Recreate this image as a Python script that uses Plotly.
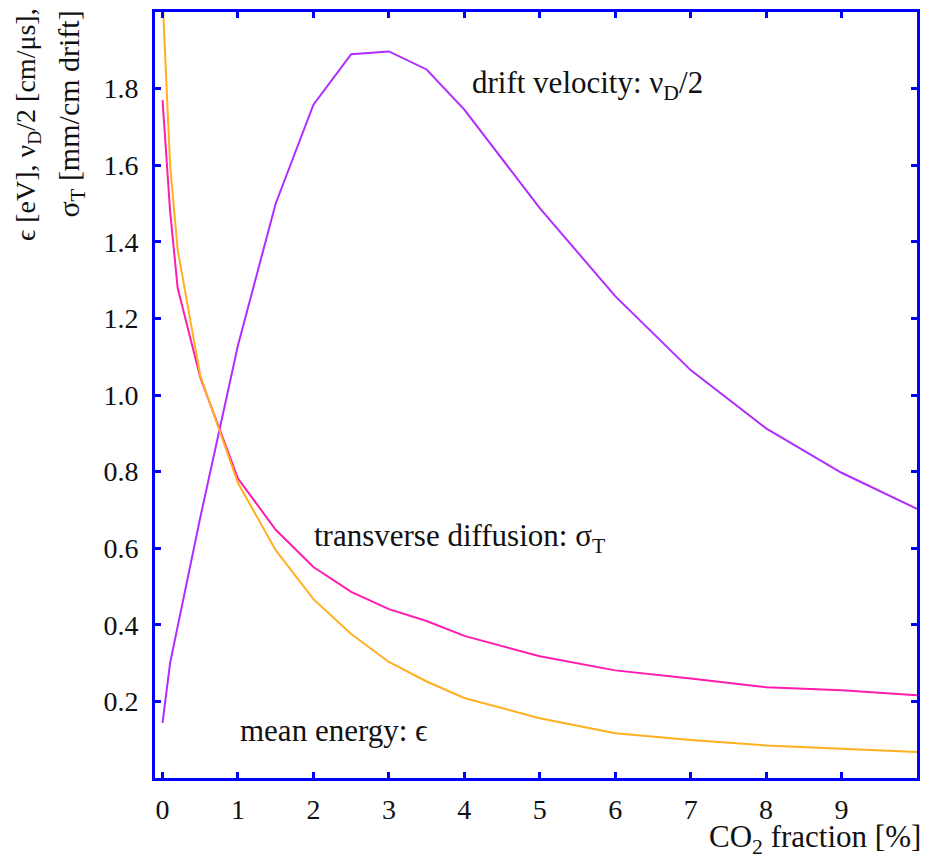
import plotly.graph_objects as go

# ---- data ----
drift_x = [0, 0.1, 0.5, 1, 1.5, 2, 2.5, 3, 3.5, 4, 5, 6, 7, 8, 9, 10]
drift_y = [0.144, 0.30, 0.68, 1.13, 1.50, 1.758, 1.89, 1.897, 1.85, 1.745, 1.488, 1.258, 1.065, 0.913, 0.797, 0.703]

diff_x = [0, 0.05, 0.1, 0.2, 0.5, 1, 1.5, 2, 2.5, 3, 3.5, 4, 5, 6, 7, 8, 9, 10]
diff_y = [1.77, 1.63, 1.48, 1.28, 1.046, 0.782, 0.648, 0.551, 0.486, 0.441, 0.41, 0.371, 0.318, 0.281, 0.26, 0.237, 0.229, 0.216]

energy_x = [0, 0.1, 0.2, 0.5, 1, 1.5, 2, 2.5, 3, 3.5, 4, 5, 6, 7, 8, 9, 10]
energy_y = [2.04, 1.60, 1.38, 1.05, 0.77, 0.595, 0.467, 0.376, 0.303, 0.252, 0.209, 0.156, 0.117, 0.099, 0.085, 0.076, 0.068]

x_ticks = [0, 1, 2, 3, 4, 5, 6, 7, 8, 9]
y_ticks = [0.2, 0.4, 0.6, 0.8, 1.0, 1.2, 1.4, 1.6, 1.8]

FONT = "Liberation Serif"
BLUE = "#0000ff"

fig = go.Figure()
fig.add_trace(go.Scatter(x=drift_x, y=drift_y, mode="lines",
                         line=dict(color="#b22cff", width=2), showlegend=False))
fig.add_trace(go.Scatter(x=diff_x, y=diff_y, mode="lines",
                         line=dict(color="#ff1cae", width=2), showlegend=False))
fig.add_trace(go.Scatter(x=energy_x, y=energy_y, mode="lines",
                         line=dict(color="#ffb020", width=2), showlegend=False))

axis_common = dict(
    showline=True, linecolor=BLUE, linewidth=3, mirror="ticks",
    ticks="inside", ticklen=6, tickwidth=3, tickcolor=BLUE,
    showgrid=False, zeroline=False,
    tickfont=dict(family=FONT, size=28, color="#111111"),
)

fig.update_layout(
    width=929, height=859,
    margin=dict(l=155, r=9, t=12, b=81),
    paper_bgcolor="white", plot_bgcolor="white",
    font=dict(family=FONT, size=28, color="#111111"),
    xaxis=dict(range=[-0.1, 10], tickvals=x_ticks,
               ticktext=[str(v) for v in x_ticks], ticklabelstandoff=4,
               **axis_common),
    yaxis=dict(range=[0, 2.0], tickvals=y_ticks, tickformat=".1f",
               ticklabelstandoff=8, **axis_common),
)

ann_font = dict(family=FONT, size=31, color="#111111")
fig.add_annotation(x=4.07, y=1.809, xref="x", yref="y", text="drift velocity: ν<sub>D</sub>/2",
                   showarrow=False, xanchor="left", yanchor="middle", font=ann_font)
fig.add_annotation(x=1.98, y=0.626, xref="x", yref="y", text="transverse diffusion: σ<sub>T</sub>",
                   showarrow=False, xanchor="left", yanchor="middle", font=ann_font)
fig.add_annotation(x=1.0, y=0.123, xref="x", yref="y", text="mean energy: ϵ",
                   showarrow=False, xanchor="left", yanchor="middle", font=ann_font)

# x-axis title
fig.add_annotation(x=1.008, y=-0.079, xref="paper", yref="paper", text="CO<sub>2</sub> fraction [%]",
                   showarrow=False, xanchor="right", yanchor="middle", font=ann_font)

# y-axis title (two lines, top aligned)
fig.add_annotation(x=-0.167, y=1.008, xref="paper", yref="paper",
                   text="ϵ [eV], ν<sub>D</sub>/2 [cm/μs],", textangle=-90,
                   showarrow=False, xanchor="center", yanchor="top",
                   font=dict(family=FONT, size=28, color="#111111"))
fig.add_annotation(x=-0.11, y=1.004, xref="paper", yref="paper",
                   text="σ<sub>T</sub> [mm/cm drift]", textangle=-90,
                   showarrow=False, xanchor="center", yanchor="top",
                   font=dict(family=FONT, size=30, color="#111111"))

fig.write_html("out.html")
